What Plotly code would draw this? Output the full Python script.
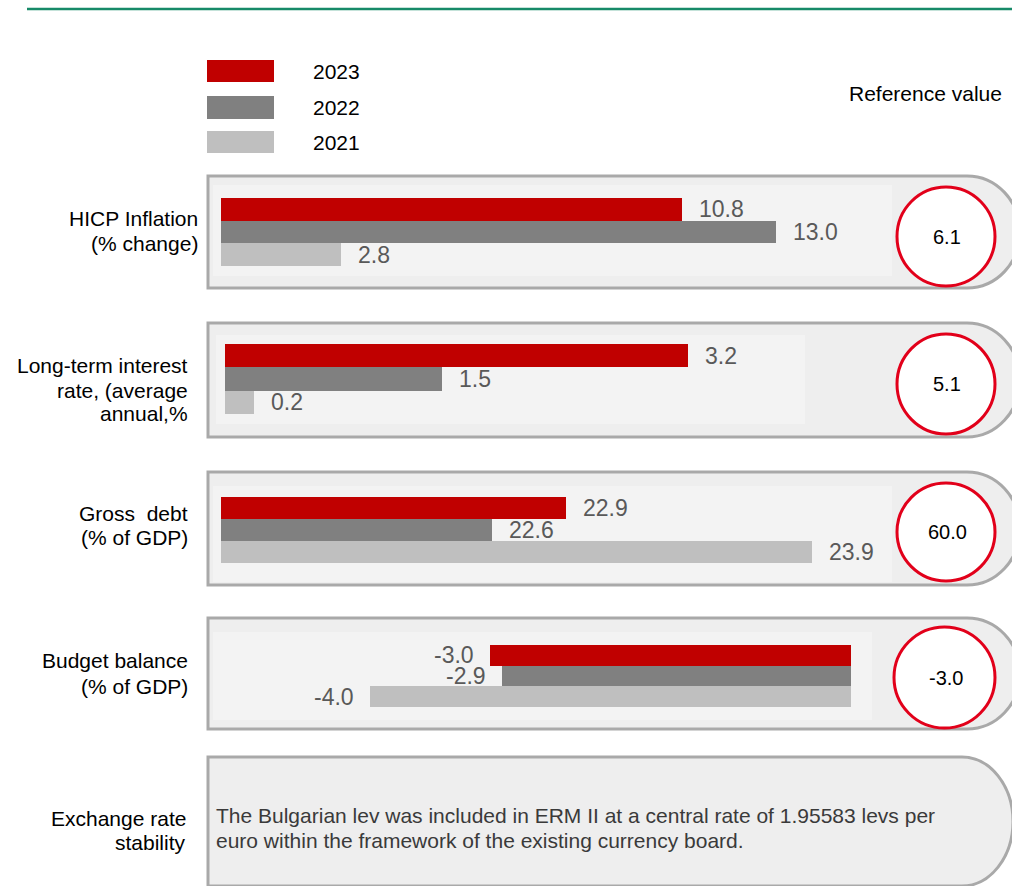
import plotly.graph_objects as go

W, H = 1012, 886

# ---------------- data ----------------
years = ["2023", "2022", "2021"]
year_colors = ["#c00000", "#808080", "#bfbfbf"]

indicators = ["HICP Inflation", "Long-term interest rate", "Gross debt", "Budget balance"]
hicp = [10.8, 13.0, 2.8]
interest = [3.2, 1.5, 0.2]
debt = [22.9, 22.6, 23.9]
balance = [-3.0, -2.9, -4.0]
reference_values = ["6.1", "5.1", "60.0", "-3.0"]

label_lines = [
    ["HICP Inflation", "(% change)"],
    ["Long-term interest", "rate, (average", "annual,%"],
    ["Gross  debt", "(% of GDP)"],
    ["Budget balance", "(% of GDP)"],
    ["Exchange rate", "stability"],
]
exchange_text = ["The Bulgarian lev was included in ERM II at a central rate of 1.95583 levs per",
                 "euro within the framework of the existing currency board."]

series = [hicp, interest, debt, balance]


def X(px):
    return px / W


def Y(py):
    return 1 - py / H


FONT = "Liberation Sans, Arial, sans-serif"

fig = go.Figure()

# panel geometry (pixels)
panels = [
    dict(top=176, bottom=288, cx=967, rx=53),
    dict(top=323, bottom=437, cx=967, rx=53),
    dict(top=472, bottom=585, cx=967, rx=53),
    dict(top=618, bottom=729, cx=967, rx=53),
    dict(top=757, bottom=886, cx=962, rx=51),
]
inner = [
    (213, 185, 892, 276),
    (216, 335, 805, 424),
    (213, 486, 892, 582),
    (213, 632, 872, 720),
]
# plot-area x domain (px) and bar-group y extent (px), x-range
plot_x = [(221, 892), (225, 805), (221, 892), (221, 872)]
plot_y = [(198, 266), (344, 414), (497, 563), (645, 707)]
x_ranges = [[0, 671 / 42.7], [0, 580 / 144.7], [21.5, 21.5 + 671 / 246.3],
            [-(851 - 221) / 120.3, (872 - 851) / 120.3]]
circles = [(897, 187, 995, 286), (897, 334, 995, 434), (897, 483, 995, 581), (894, 627, 995, 728)]
left_label_right = [200, 190, 190, 190, 188]
left_label_y = [[218, 243], [365, 390, 414], [513, 537], [660, 686], [818, 842]]

shapes = []
k = 0.5523

for p in panels:
    l, t, b, cx, rx = 208, p["top"], p["bottom"], p["cx"], p["rx"]
    ry = (b - t) / 2
    cy = (t + b) / 2
    path = (f"M {X(l)},{Y(b)} L {X(l)},{Y(t)} L {X(cx)},{Y(t)} "
            f"C {X(cx + k * rx)},{Y(t)} {X(cx + rx)},{Y(cy - k * ry)} {X(cx + rx)},{Y(cy)} "
            f"C {X(cx + rx)},{Y(cy + k * ry)} {X(cx + k * rx)},{Y(b)} {X(cx)},{Y(b)} Z")
    shapes.append(dict(type="path", xref="paper", yref="paper", path=path,
                       fillcolor="#eeeeee", line=dict(color="#a9a9a9", width=3), layer="below"))

for (x0, y0, x1, y1) in inner:
    shapes.append(dict(type="rect", xref="paper", yref="paper", x0=X(x0), x1=X(x1), y0=Y(y1), y1=Y(y0),
                       fillcolor="#f3f3f3", line=dict(width=0), layer="below"))

for (x0, y0, x1, y1) in circles:
    shapes.append(dict(type="circle", xref="paper", yref="paper", x0=X(x0), x1=X(x1), y0=Y(y1), y1=Y(y0),
                       fillcolor="#ffffff", line=dict(color="#e2001a", width=3), layer="below"))

# top green rule
shapes.append(dict(type="line", xref="paper", yref="paper", x0=X(27), x1=X(1012), y0=Y(9), y1=Y(9),
                   line=dict(color="#178a68", width=2.5)))

# legend swatches
leg_y = [(60, 82), (96, 119), (131, 153)]
for (y0, y1), c in zip(leg_y, year_colors):
    shapes.append(dict(type="rect", xref="paper", yref="paper", x0=X(207), x1=X(274), y0=Y(y1), y1=Y(y0),
                       fillcolor=c, line=dict(width=0)))

annotations = []
for (y0, y1), yr in zip(leg_y, years):
    annotations.append(dict(xref="paper", yref="paper", x=X(311), y=Y((y0 + y1) / 2), text=yr,
                            showarrow=False, xanchor="left", yanchor="middle",
                            font=dict(family=FONT, size=21, color="#000000")))
annotations.append(dict(xref="paper", yref="paper", x=X(1004), y=Y(94), text="Reference value",
                        showarrow=False, xanchor="right", yanchor="middle",
                        font=dict(family=FONT, size=21, color="#000000")))

# bars
for i, vals in enumerate(series):
    ax = "" if i == 0 else str(i + 1)
    xa, ya = "x" + ax, "y" + ax
    for j in range(3):
        fig.add_trace(go.Bar(x=[vals[j]], y=[j], orientation="h", width=1,
                             marker=dict(color=year_colors[j], line=dict(width=0)),
                             xaxis=xa, yaxis=ya, showlegend=False, hoverinfo="skip"))
        neg = vals[j] < 0
        annotations.append(dict(xref=xa, yref=ya, x=vals[j], y=j, text=f"{vals[j]:.1f}",
                                showarrow=False, xanchor="right" if neg else "left", yanchor="middle",
                                xshift=-14 if neg else 15,
                                font=dict(family=FONT, size=23, color="#595959")))
    fig.layout["xaxis" + ax] = dict(domain=[X(plot_x[i][0]), X(plot_x[i][1])], range=x_ranges[i],
                                    visible=False, fixedrange=True, anchor=ya)
    fig.layout["yaxis" + ax] = dict(domain=[Y(plot_y[i][1]), Y(plot_y[i][0])], range=[2.5, -0.5],
                                    visible=False, fixedrange=True, anchor=xa)

# reference values in circles
for (x0, y0, x1, y1), rv in zip(circles, reference_values):
    annotations.append(dict(xref="paper", yref="paper", x=X((x0 + x1) / 2 + 1), y=Y((y0 + y1) / 2),
                            text=rv, showarrow=False, xanchor="center", yanchor="middle",
                            font=dict(family=FONT, size=20, color="#000000")))

# left labels
for lines, ys, xr in zip(label_lines, left_label_y, left_label_right):
    for line, yy in zip(lines, ys):
        annotations.append(dict(xref="paper", yref="paper", x=X(xr), y=Y(yy), text=line,
                                showarrow=False, xanchor="right", yanchor="middle",
                                font=dict(family=FONT, size=21, color="#000000")))

# exchange rate text
for line, yy in zip(exchange_text, [815, 840]):
    annotations.append(dict(xref="paper", yref="paper", x=X(214), y=Y(yy), text=line,
                            showarrow=False, xanchor="left", yanchor="middle",
                            font=dict(family=FONT, size=21, color="#3a3a3a")))

fig.update_layout(width=W, height=H, margin=dict(l=0, r=0, t=0, b=0),
                  paper_bgcolor="#ffffff", plot_bgcolor="rgba(0,0,0,0)",
                  barmode="overlay", bargap=0, shapes=shapes, annotations=annotations)

fig.write_html("out.html", config={"displayModeBar": False},
               post_script="document.body.style.margin='0px';")
